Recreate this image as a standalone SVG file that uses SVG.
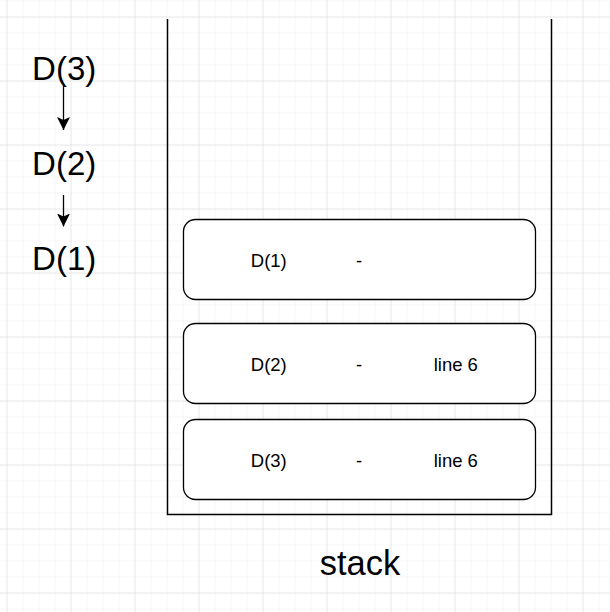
<svg xmlns="http://www.w3.org/2000/svg" width="610" height="612" viewBox="0 0 610 612">
<defs>
<pattern id="minor" x="6.5" y="0.5" width="16" height="16" patternUnits="userSpaceOnUse">
<path d="M0 0 H16 M0 0 V16" fill="none" stroke="#f0f0f0" stroke-width="1.2"/>
</pattern>
<pattern id="major" x="6.5" y="16.5" width="64" height="64" patternUnits="userSpaceOnUse">
<path d="M0 0 H64 M0 0 V64" fill="none" stroke="#dadada" stroke-width="1"/>
</pattern>
<marker id="arr" viewBox="0 0 14 14" refX="13" refY="7" markerWidth="14" markerHeight="14" markerUnits="userSpaceOnUse" orient="auto">
<path d="M0 0.5 L13 7 L0 13.5 L3 7 Z" fill="#000"/>
</marker>
<style>
.big{font-family:"Liberation Sans",Arial,sans-serif;font-size:33px;fill:#000;text-anchor:middle}
.t{font-family:"Liberation Sans",Arial,sans-serif;font-size:18.5px;fill:#000;text-anchor:middle}
.box{fill:#fff;stroke:#000;stroke-width:1.3}
</style>
</defs>
<rect width="610" height="612" fill="#fff"/>
<rect width="610" height="612" fill="url(#minor)"/>
<rect width="610" height="612" fill="url(#major)"/>

<g id="stack">
<path d="M167.5 19 V514.5 H551.5 V19" fill="none" stroke="#000" stroke-width="1.5"/>
<text class="big" x="360" y="575" style="font-size:34.5px">stack</text>
</g>

<g id="frame1">
<rect class="box" x="183.5" y="219.5" width="352" height="80" rx="12"/>
<text class="t" x="268.8" y="266.5">D(1)</text>
<text class="t" x="359" y="266.5">-</text>
</g>
<g id="frame2">
<rect class="box" x="183.5" y="323.5" width="352" height="80" rx="12"/>
<text class="t" x="268.8" y="370.5">D(2)</text>
<text class="t" x="359" y="370.5">-</text>
<text class="t" x="455.8" y="370.5">line 6</text>
</g>
<g id="frame3">
<rect class="box" x="183.5" y="419.5" width="352" height="80" rx="12"/>
<text class="t" x="268.8" y="466.5">D(3)</text>
<text class="t" x="359" y="466.5">-</text>
<text class="t" x="455.8" y="466.5">line 6</text>
</g>

<g id="call3"><text class="big" x="64.2" y="79.5">D(3)</text></g>
<g id="call2"><text class="big" x="64.2" y="174.5">D(2)</text></g>
<g id="call1"><text class="big" x="64.2" y="270">D(1)</text></g>

<g id="connectors" stroke="#000" stroke-width="1.3" fill="none">
<path d="M63.5 85 V130" marker-end="url(#arr)"/>
<path d="M63.5 195 V226.5" marker-end="url(#arr)"/>
</g>
</svg>
